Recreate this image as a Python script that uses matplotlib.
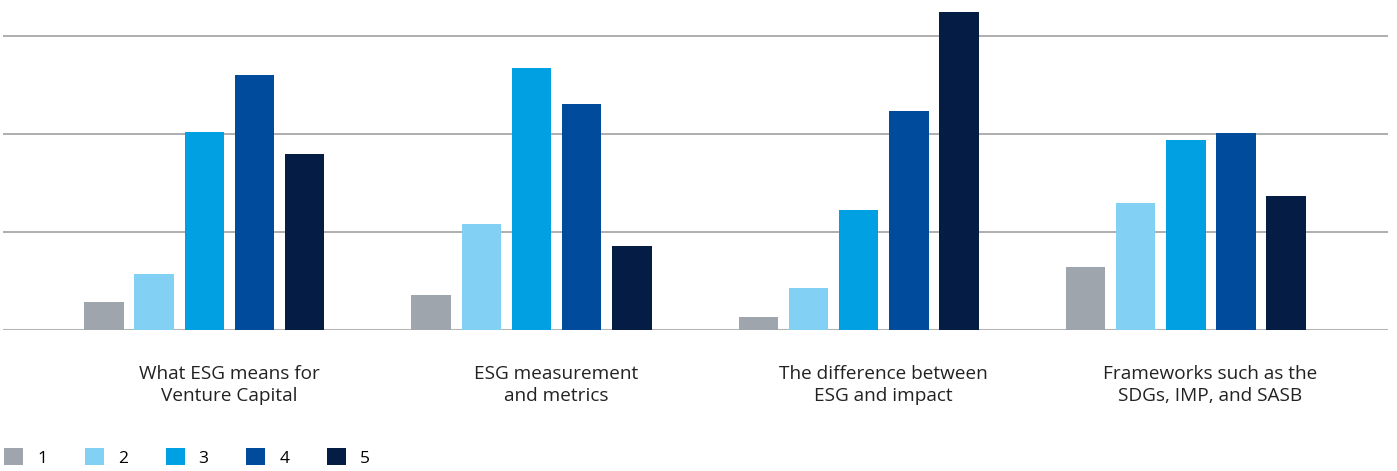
import numpy as np
import matplotlib
matplotlib.use("Agg")
import matplotlib.pyplot as plt
from matplotlib.patches import Patch

plt.rcParams['font.family'] = ['Open Sans', 'DejaVu Sans']

topics = ["What ESG means for\nVenture Capital",
          "ESG measurement\nand metrics",
          "The difference between\nESG and impact",
          "Frameworks such as the\nSDGs, IMP, and SASB"]
ratings = ["1", "2", "3", "4", "5"]

# share of responses per rating, one list per rating
r1 = [2.8, 3.5, 1.3, 6.4]
r2 = [5.7, 10.8, 4.2, 12.9]
r3 = [20.2, 26.7, 12.2, 19.4]
r4 = [26.0, 23.1, 22.3, 20.1]
r5 = [18.0, 8.5, 32.5, 13.7]
series = [r1, r2, r3, r4, r5]

colors = ["#9ea5ad", "#83d0f5", "#00a0e2", "#004b9b", "#051d45"]

fig = plt.figure(figsize=(13.97, 4.71), dpi=100)
ax = fig.add_axes([3 / 1397, 141.5 / 471, 1385 / 1397, 329.5 / 471])

x = np.arange(len(topics))
step = 0.153
width = 0.122
for i, vals in enumerate(series):
    ax.bar(x + (i - 2) * step, vals, width=width, color=colors[i], zorder=3)

ax.set_xlim(-0.616, 3.619)
ax.set_ylim(0, 33.7)
ax.set_yticks([0, 10, 20, 30])
ax.yaxis.grid(True, color="#a8a8a8", linewidth=1.3, zorder=0)
ax.axhline(0, color="#b4b4b4", linewidth=2.2, zorder=2)
ax.tick_params(left=False, bottom=False, labelleft=False, labelbottom=False)
for s in ax.spines.values():
    s.set_visible(False)

for xi, t in zip(x, topics):
    ax.text(xi + 0.075, -3.6, t, ha="center", va="top", fontsize=13.7,
            color="#222222", linespacing=1.33)

handles = [Patch(facecolor=c, label=l) for c, l in zip(colors, ratings)]
fig.legend(handles=handles, ncol=5, loc="lower left",
           bbox_to_anchor=(0.0, 0.0), frameon=False, fontsize=12.5,
           handlelength=1.1, handleheight=1.1, handletextpad=0.8,
           columnspacing=2.17, borderaxespad=0.1, borderpad=0.15)

fig.savefig("out.png", dpi=100)
